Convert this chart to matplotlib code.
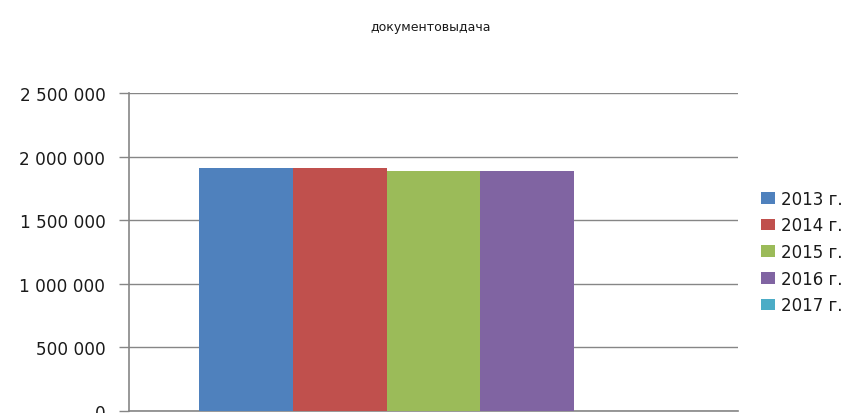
import matplotlib
matplotlib.use("Agg")
import matplotlib.pyplot as plt
from matplotlib.ticker import FuncFormatter
import numpy as np

title = "документовыдача"
series = ["2013 г.", "2014 г.", "2015 г.", "2016 г.", "2017 г."]
values = [1910000, 1912000, 1890000, 1888000, 0]
colors = ["#4F81BD", "#C0504D", "#9BBB59", "#8064A2", "#4BACC6"]
yticks = [0, 500000, 1000000, 1500000, 2000000, 2500000]

plt.rcParams['font.family'] = ['DejaVu Sans']

fig = plt.figure(figsize=(8.46, 4.14), dpi=100)
ax = fig.add_axes([129/846, 2/414, (738-129)/846, (412-94)/414])

n = len(series)
bw = 0.154
offsets = (np.arange(n) - (n - 1) / 2) * bw
handles = []
for i, (s, v, c) in enumerate(zip(series, values, colors)):
    b = ax.bar(offsets[i], v, width=bw, color=c, label=s, zorder=3)
    handles.append(b)

ax.set_xlim(-0.5, 0.5)
ax.set_ylim(0, 2500000)
ax.set_yticks(yticks)
ax.yaxis.set_major_formatter(FuncFormatter(lambda v, p: f"{int(v):,}".replace(",", " ")))
ax.tick_params(axis='y', length=7, width=1, color="#868686", labelsize=12.2, labelcolor="#1a1a1a", pad=10)
ax.set_xticks([])
ax.grid(axis='y', color="#868686", linewidth=1, zorder=0)
for sp in ['top', 'right']:
    ax.spines[sp].set_visible(False)
for sp in ['left', 'bottom']:
    ax.spines[sp].set_color("#868686")
    ax.spines[sp].set_linewidth(1.2)

fig.text(431/846, 1 - 28/414, title, ha='center', va='center', fontsize=9, color="#1a1a1a")

leg = fig.legend(handles=handles, labels=series, loc='center left',
                 bbox_to_anchor=(761/846, 1 - 253/414), frameon=False,
                 fontsize=12, handlelength=0.85, handleheight=0.7,
                 handletextpad=0.35, labelspacing=0.52, labelcolor="#1a1a1a",
                 borderpad=0, borderaxespad=0)

fig.savefig("out.png", dpi=100)
